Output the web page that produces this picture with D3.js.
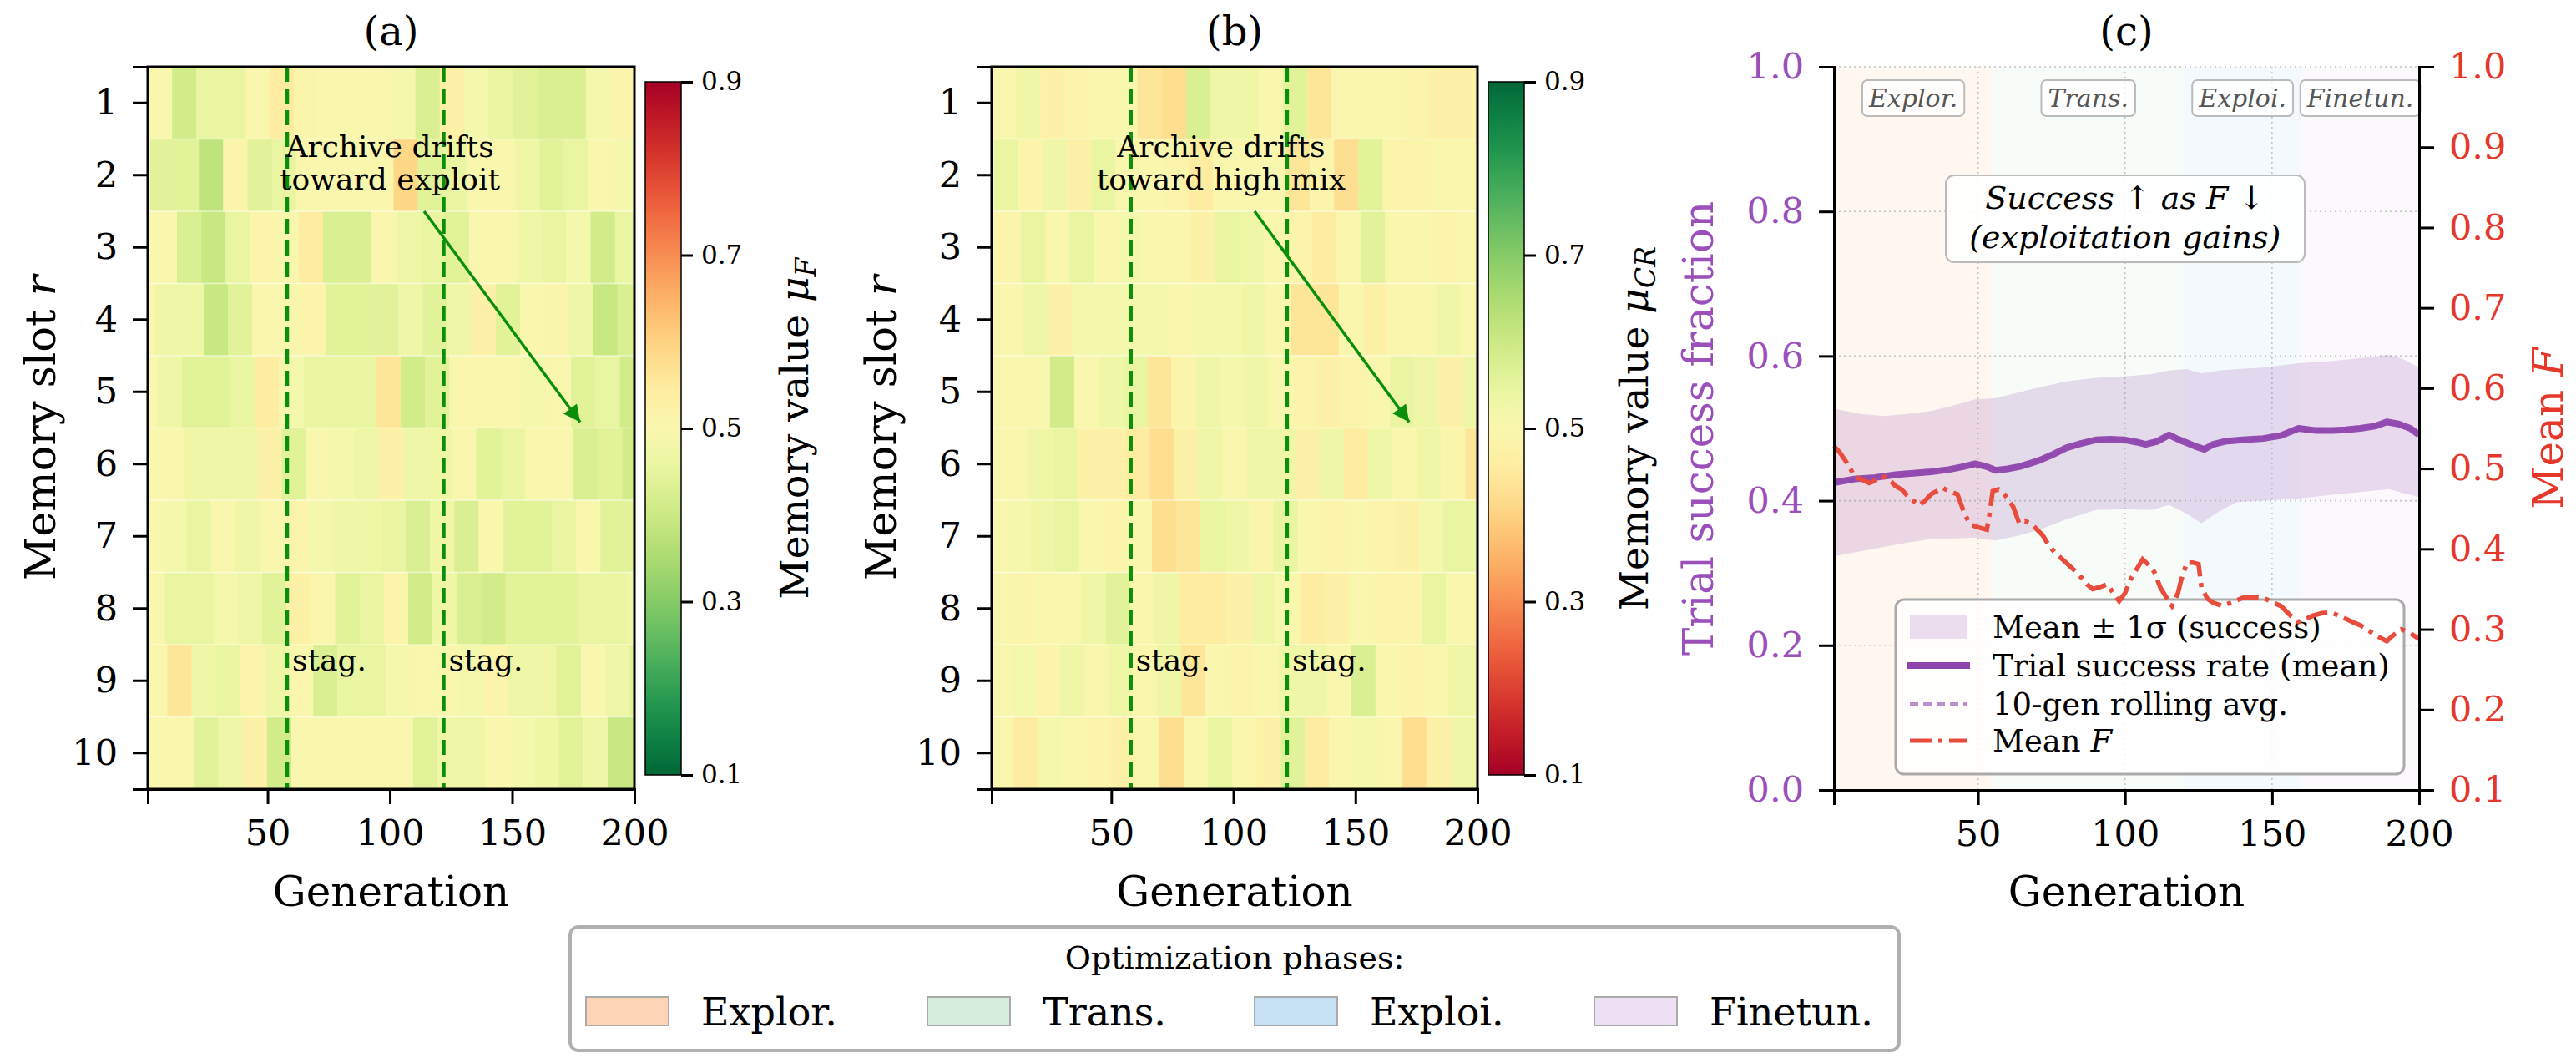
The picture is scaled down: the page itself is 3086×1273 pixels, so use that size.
<!DOCTYPE html>
<html>
<head>
<meta charset="utf-8">
<script src="https://cdn.jsdelivr.net/npm/d3@7"></script>
<style>
  body { margin: 0; background: #fff; }
  svg { font-family: "DejaVu Serif", serif; }
</style>
</head>
<body>
<svg id="fig" width="3086" height="1273"></svg>
<script>
// ---- data ----
const genRange = [1, 200];
const slots = [1, 2, 3, 4, 5, 6, 7, 8, 9, 10];
const blockLength = 10;        // slot r is rewritten every 10 generations
const initMemory = 0.5;
const stagGens = [58, 122];
const xTicks = [50, 100, 150, 200];
const cbTicks = [0.1, 0.3, 0.5, 0.7, 0.9];

// memory mu_F per slot, one value per 10-generation block
const muF = [
  [0.50, 0.41, 0.455, 0.455, 0.50, 0.545, 0.515, 0.50, 0.50, 0.50, 0.485, 0.425, 0.53, 0.485, 0.455, 0.44, 0.425, 0.425, 0.485, 0.515],
  [0.44, 0.44, 0.38, 0.515, 0.44, 0.455, 0.50, 0.50, 0.50, 0.50, 0.59, 0.44, 0.455, 0.50, 0.50, 0.47, 0.44, 0.455, 0.50, 0.485],
  [0.50, 0.425, 0.395, 0.455, 0.515, 0.50, 0.545, 0.425, 0.425, 0.50, 0.47, 0.455, 0.44, 0.50, 0.50, 0.47, 0.455, 0.485, 0.41, 0.455],
  [0.47, 0.47, 0.395, 0.44, 0.50, 0.50, 0.515, 0.44, 0.44, 0.44, 0.47, 0.44, 0.47, 0.53, 0.44, 0.50, 0.515, 0.47, 0.395, 0.425],
  [0.47, 0.44, 0.44, 0.455, 0.545, 0.485, 0.455, 0.455, 0.455, 0.56, 0.41, 0.44, 0.50, 0.50, 0.50, 0.485, 0.50, 0.44, 0.455, 0.41],
  [0.50, 0.47, 0.47, 0.47, 0.53, 0.44, 0.50, 0.485, 0.47, 0.53, 0.47, 0.47, 0.50, 0.44, 0.455, 0.50, 0.50, 0.425, 0.44, 0.41],
  [0.485, 0.455, 0.50, 0.47, 0.50, 0.515, 0.485, 0.47, 0.47, 0.455, 0.425, 0.47, 0.425, 0.50, 0.44, 0.44, 0.455, 0.50, 0.44, 0.44],
  [0.455, 0.455, 0.485, 0.47, 0.44, 0.53, 0.50, 0.44, 0.455, 0.515, 0.41, 0.47, 0.425, 0.41, 0.44, 0.44, 0.44, 0.455, 0.455, 0.47],
  [0.56, 0.47, 0.455, 0.515, 0.47, 0.50, 0.425, 0.455, 0.455, 0.485, 0.50, 0.50, 0.485, 0.515, 0.47, 0.47, 0.44, 0.50, 0.47, 0.44],
  [0.50, 0.44, 0.47, 0.53, 0.41, 0.50, 0.50, 0.50, 0.50, 0.50, 0.44, 0.47, 0.47, 0.50, 0.485, 0.47, 0.44, 0.47, 0.395, 0.395]
];

// memory mu_CR per slot
const muCR = [
  [0.50, 0.53, 0.47, 0.485, 0.50, 0.50, 0.44, 0.425, 0.575, 0.53, 0.53, 0.50, 0.56, 0.44, 0.50, 0.50, 0.50, 0.485, 0.47, 0.47],
  [0.545, 0.485, 0.53, 0.47, 0.545, 0.50, 0.50, 0.485, 0.455, 0.50, 0.50, 0.50, 0.44, 0.485, 0.425, 0.56, 0.485, 0.485, 0.50, 0.50],
  [0.485, 0.545, 0.50, 0.545, 0.50, 0.515, 0.50, 0.50, 0.47, 0.545, 0.53, 0.50, 0.485, 0.455, 0.50, 0.56, 0.50, 0.50, 0.485, 0.50],
  [0.50, 0.53, 0.47, 0.515, 0.515, 0.515, 0.515, 0.50, 0.515, 0.515, 0.53, 0.50, 0.44, 0.44, 0.50, 0.47, 0.50, 0.50, 0.53, 0.50],
  [0.50, 0.50, 0.59, 0.50, 0.53, 0.545, 0.44, 0.485, 0.53, 0.515, 0.53, 0.50, 0.485, 0.47, 0.485, 0.50, 0.545, 0.53, 0.47, 0.53],
  [0.50, 0.53, 0.545, 0.47, 0.47, 0.455, 0.425, 0.47, 0.53, 0.50, 0.53, 0.53, 0.47, 0.53, 0.455, 0.53, 0.50, 0.53, 0.485, 0.44],
  [0.515, 0.53, 0.545, 0.50, 0.485, 0.50, 0.425, 0.44, 0.545, 0.53, 0.485, 0.545, 0.50, 0.485, 0.50, 0.485, 0.47, 0.515, 0.545, 0.545],
  [0.485, 0.50, 0.50, 0.53, 0.56, 0.50, 0.53, 0.455, 0.455, 0.47, 0.53, 0.50, 0.455, 0.47, 0.50, 0.485, 0.485, 0.545, 0.50, 0.50],
  [0.515, 0.485, 0.53, 0.50, 0.53, 0.50, 0.53, 0.44, 0.50, 0.485, 0.50, 0.53, 0.53, 0.50, 0.575, 0.50, 0.485, 0.50, 0.53, 0.53],
  [0.455, 0.515, 0.50, 0.485, 0.47, 0.50, 0.425, 0.50, 0.545, 0.50, 0.47, 0.56, 0.455, 0.50, 0.515, 0.50, 0.425, 0.47, 0.53, 0.53]
];

// panel (c)
const phaseNames = ["Explor.", "Trans.", "Exploi.", "Finetun."];
const phaseStart = [1, 55, 120, 160];
const phaseEnd = [55, 120, 160, 200];
const phaseColors = ["#fdd5b6", "#d6eedd", "#c7e2f4", "#eee0f3"];

const succGen = [1, 8, 15, 22, 28, 34, 40, 45, 49, 53, 56, 60, 64, 68, 71, 75, 80, 85, 90, 95, 100, 104, 107, 111, 115, 118, 121, 124, 127, 130, 134, 140, 147, 153, 159, 165, 170, 175, 180, 185, 189, 193, 197, 200];
const succMean = [0.425, 0.430, 0.432, 0.436, 0.438, 0.440, 0.443, 0.447, 0.451, 0.447, 0.442, 0.444, 0.447, 0.452, 0.456, 0.463, 0.473, 0.479, 0.484, 0.485, 0.484, 0.481, 0.478, 0.482, 0.491, 0.485, 0.480, 0.475, 0.471, 0.478, 0.482, 0.484, 0.486, 0.490, 0.500, 0.497, 0.497, 0.498, 0.500, 0.503, 0.509, 0.506, 0.500, 0.491];
const succRolling = [0.426, 0.429, 0.433, 0.435, 0.438, 0.441, 0.443, 0.446, 0.449, 0.447, 0.444, 0.444, 0.447, 0.451, 0.456, 0.462, 0.471, 0.478, 0.483, 0.485, 0.484, 0.482, 0.480, 0.482, 0.488, 0.486, 0.481, 0.476, 0.473, 0.477, 0.481, 0.484, 0.487, 0.491, 0.498, 0.497, 0.497, 0.499, 0.501, 0.504, 0.507, 0.505, 0.499, 0.492];

const bandGen = [1, 10, 18, 26, 34, 42, 49, 56, 64, 71, 80, 90, 100, 109, 115, 121, 126, 132, 138, 147, 159, 170, 180, 190, 195, 200];
const bandUpper = [0.527, 0.520, 0.517, 0.520, 0.524, 0.532, 0.540, 0.542, 0.550, 0.557, 0.565, 0.570, 0.572, 0.575, 0.580, 0.582, 0.576, 0.580, 0.582, 0.584, 0.590, 0.593, 0.597, 0.602, 0.595, 0.584];
const bandLower = [0.323, 0.330, 0.336, 0.342, 0.347, 0.348, 0.349, 0.345, 0.352, 0.360, 0.374, 0.387, 0.388, 0.387, 0.394, 0.382, 0.369, 0.385, 0.398, 0.400, 0.403, 0.408, 0.412, 0.416, 0.410, 0.405];

const meanFGen = [1, 3, 6, 8, 10, 13, 15, 17, 19, 22, 24, 26, 28, 30, 32, 34, 36, 38, 40, 43, 45, 47, 49, 51, 53, 54, 55, 57, 59, 61, 62, 64, 66, 69, 72, 74, 76, 79, 82, 85, 87, 89, 91, 94, 96, 98, 100, 102, 104, 106, 108, 110, 112, 114, 116, 118, 119, 121, 123, 125, 126, 128, 130, 133, 136, 140, 144, 147, 150, 153, 156, 159, 161, 164, 167, 170, 172, 175, 178, 180, 183, 186, 189, 191, 194, 197, 200];
const meanFVal = [0.528, 0.520, 0.504, 0.490, 0.487, 0.482, 0.485, 0.490, 0.489, 0.478, 0.474, 0.466, 0.460, 0.454, 0.460, 0.468, 0.472, 0.476, 0.472, 0.468, 0.448, 0.432, 0.428, 0.426, 0.424, 0.445, 0.472, 0.474, 0.468, 0.458, 0.452, 0.432, 0.435, 0.428, 0.417, 0.405, 0.396, 0.386, 0.376, 0.365, 0.356, 0.350, 0.352, 0.356, 0.345, 0.335, 0.345, 0.363, 0.375, 0.387, 0.380, 0.371, 0.352, 0.340, 0.329, 0.345, 0.360, 0.383, 0.383, 0.381, 0.352, 0.338, 0.333, 0.329, 0.333, 0.339, 0.340, 0.339, 0.334, 0.329, 0.318, 0.309, 0.312, 0.317, 0.320, 0.321, 0.318, 0.313, 0.308, 0.305, 0.298, 0.291, 0.285, 0.292, 0.300, 0.295, 0.288];

const succTicks = [0.0, 0.2, 0.4, 0.6, 0.8, 1.0];
const fTicks = [0.1, 0.2, 0.3, 0.4, 0.5, 0.6, 0.7, 0.8, 0.9, 1.0];

const PURPLE = "#8e44ad";
const PURPLE_TXT = "#9b4fba";
const RED = "#e74c3c";
const RED_TXT = "#e5372a";
const GREEN = "#0b8f0b";

const svg = d3.select("#fig");
const defs = svg.append("defs");

defs.append("marker")
  .attr("id", "arrowhead")
  .attr("viewBox", "0 0 10 10")
  .attr("refX", 10).attr("refY", 5)
  .attr("markerUnits", "userSpaceOnUse")
  .attr("markerWidth", 24).attr("markerHeight", 20)
  .attr("orient", "auto")
  .append("path").attr("d", "M0,0 L10,5 L0,10 z").attr("fill", GREEN);

function styleAxis(g, fontSize, color) {
  g.selectAll(".domain").attr("stroke", "#000").attr("stroke-width", 3);
  g.selectAll(".tick line").attr("stroke", "#000").attr("stroke-width", 3);
  g.selectAll(".tick text")
    .attr("font-family", "DejaVu Serif")
    .attr("font-size", fontSize)
    .attr("fill", color || "#000");
}

function heatPanel(p) {
  const x = d3.scaleLinear().domain(genRange).range([p.left, p.right]);
  const nCols = genRange[1] - genRange[0] + 1;
  const xEdge = g => x(genRange[0] + (g - genRange[0]) * (genRange[1] - genRange[0]) / nCols);
  const yBand = d3.scaleBand().domain(slots).range([p.top, p.bottom]);
  const yRow = d3.scaleLinear().domain([0.5, slots.length + 0.5]).range([p.top, p.bottom]);
  const color = d3.scaleSequential(p.interp).domain([0.1, 0.9]);

  const cells = [];
  p.data.forEach((row, i) => {
    const r = slots[i];
    if (r > 1) cells.push({ r: r, g0: 1, g1: r, v: initMemory });
    row.forEach((v, k) => {
      const g0 = r + k * blockLength;
      if (g0 > genRange[1]) return;
      const g1 = Math.min(g0 + blockLength, genRange[1] + 1);
      cells.push({ r: r, g0: g0, g1: g1, v: v });
    });
  });

  const g = svg.append("g");
  g.selectAll("rect.cell").data(cells).enter().append("rect")
    .attr("class", "cell")
    .attr("x", d => xEdge(d.g0))
    .attr("width", d => xEdge(d.g1) - xEdge(d.g0) + 0.4)
    .attr("y", d => yBand(d.r))
    .attr("height", yBand.bandwidth() + 0.4)
    .attr("fill", d => color(d.v));

  // faint row seams
  g.selectAll("line.seam").data(slots.slice(1)).enter().append("line")
    .attr("x1", p.left).attr("x2", p.right)
    .attr("y1", d => yBand(d)).attr("y2", d => yBand(d))
    .attr("stroke", "#fff").attr("stroke-opacity", 0.55).attr("stroke-width", 1.5);

  // stagnation markers
  stagGens.forEach(s => {
    g.append("line")
      .attr("x1", x(s)).attr("x2", x(s))
      .attr("y1", p.top).attr("y2", p.bottom)
      .attr("stroke", GREEN).attr("stroke-width", 4.5)
      .attr("stroke-dasharray", "18,8");
    g.append("text")
      .attr("x", x(s) + 6).attr("y", yRow(8.86))
      .attr("font-size", 36).text("stag.");
  });

  // annotation
  const t = g.append("text").attr("text-anchor", "middle").attr("font-size", 36);
  t.append("tspan").attr("x", x(p.noteGen)).attr("y", yRow(1.754)).text("Archive drifts");
  t.append("tspan").attr("x", x(p.noteGen)).attr("y", yRow(2.2)).text(p.note);
  g.append("line")
    .attr("x1", x(p.arrowFrom[0])).attr("y1", yRow(p.arrowFrom[1]))
    .attr("x2", x(p.arrowTo[0])).attr("y2", yRow(p.arrowTo[1]))
    .attr("stroke", GREEN).attr("stroke-width", 3.5)
    .attr("marker-end", "url(#arrowhead)");

  // frame
  g.append("rect")
    .attr("x", p.left).attr("y", p.top)
    .attr("width", p.right - p.left).attr("height", p.bottom - p.top)
    .attr("fill", "none").attr("stroke", "#000").attr("stroke-width", 3);

  const ax = svg.append("g").attr("transform", `translate(0,${p.bottom})`)
    .call(d3.axisBottom(x).tickValues(xTicks).tickSize(18).tickPadding(18));
  styleAxis(ax, 43);
  const ay = svg.append("g").attr("transform", `translate(${p.left},0)`)
    .call(d3.axisLeft(yBand).tickSize(18).tickPadding(18));
  styleAxis(ay, 43);

  svg.append("text").attr("x", (p.left + p.right) / 2).attr("y", 1085)
    .attr("text-anchor", "middle").attr("font-size", 50).text("Generation");
  const yl = svg.append("text")
    .attr("transform", `translate(${p.ylabelX},${(p.top + p.bottom) / 2}) rotate(-90)`)
    .attr("text-anchor", "middle").attr("font-size", 51);
  yl.append("tspan").text("Memory slot ");
  yl.append("tspan").attr("font-style", "italic").text("r");

  svg.append("text").attr("x", (p.left + p.right) / 2).attr("y", 54)
    .attr("text-anchor", "middle").attr("font-size", 48).text(p.title);

  // colorbar
  const cy = d3.scaleLinear().domain([0.1, 0.9]).range([928, 98]);
  const grad = defs.append("linearGradient").attr("id", p.id + "grad")
    .attr("x1", 0).attr("y1", 1).attr("x2", 0).attr("y2", 0);
  d3.range(0, 1.0001, 0.05).forEach(s => {
    grad.append("stop").attr("offset", s).attr("stop-color", color(0.1 + 0.8 * s));
  });
  svg.append("rect")
    .attr("x", p.cbLeft).attr("y", cy(0.9))
    .attr("width", p.cbRight - p.cbLeft).attr("height", cy(0.1) - cy(0.9))
    .attr("fill", `url(#${p.id}grad)`).attr("stroke", "#000").attr("stroke-width", 1.5);
  const cax = svg.append("g").attr("transform", `translate(${p.cbRight},0)`)
    .call(d3.axisRight(cy).tickValues(cbTicks).tickFormat(d3.format(".1f")).tickSize(14).tickPadding(10));
  styleAxis(cax, 31);
  cax.select(".domain").remove();
  const cl = svg.append("text")
    .attr("transform", `translate(${p.cbLabelX},${cy(0.5)}) rotate(-90)`)
    .attr("text-anchor", "middle").attr("font-size", 47);
  cl.append("tspan").text("Memory value ");
  cl.append("tspan").attr("font-style", "italic").text("μ");
  cl.append("tspan").attr("font-style", "italic").attr("font-size", 33).attr("dy", 9).text(p.sub);
}

heatPanel({
  id: "a", title: "(a)", data: muF,
  interp: t => d3.interpolateRdYlGn(1 - t),
  left: 177, right: 760, top: 80, bottom: 945,
  cbLeft: 773, cbRight: 816, cbLabelX: 968, ylabelX: 66, sub: "F",
  note: "toward exploit", noteGen: 100, arrowFrom: [114, 2.5], arrowTo: [177.8, 5.42]
});

heatPanel({
  id: "b", title: "(b)", data: muCR,
  interp: d3.interpolateRdYlGn,
  left: 1188, right: 1770, top: 80, bottom: 945,
  cbLeft: 1783, cbRight: 1826, cbLabelX: 1974, ylabelX: 1073, sub: "CR",
  note: "toward high mix", noteGen: 95, arrowFrom: [108.7, 2.5], arrowTo: [172, 5.42]
});

// ---- panel (c) ----
(function () {
  const L = 2197, R = 2898, T = 80, B = 946;
  const x = d3.scaleLinear().domain(genRange).range([L, R]);
  const yL = d3.scaleLinear().domain([0, 1]).range([B, T]);
  const yR = d3.scaleLinear().domain([0.1, 1.0]).range([B, T]);
  const g = svg.append("g");

  phaseNames.forEach((n, i) => {
    g.append("rect")
      .attr("x", x(phaseStart[i])).attr("width", x(phaseEnd[i]) - x(phaseStart[i]))
      .attr("y", T).attr("height", B - T)
      .attr("fill", phaseColors[i]).attr("fill-opacity", 0.2);
  });

  // dotted grid
  g.selectAll("line.hg").data(succTicks.slice(1)).enter().append("line")
    .attr("x1", L).attr("x2", R).attr("y1", d => yL(d)).attr("y2", d => yL(d))
    .attr("stroke", "#c4c4c4").attr("stroke-width", 1.6).attr("stroke-dasharray", "2,4");
  g.selectAll("line.vg").data(xTicks.slice(0, 3)).enter().append("line")
    .attr("y1", T).attr("y2", B).attr("x1", d => x(d)).attr("x2", d => x(d))
    .attr("stroke", "#c4c4c4").attr("stroke-width", 1.6).attr("stroke-dasharray", "2,4");

  const bandData = bandGen.map((gg, i) => ({ g: gg, lo: bandLower[i], hi: bandUpper[i] }));
  g.append("path").datum(bandData)
    .attr("d", d3.area().x(d => x(d.g)).y0(d => yL(d.lo)).y1(d => yL(d.hi)))
    .attr("fill", "#9b59b6").attr("fill-opacity", 0.2);

  const line = d3.line().x(d => x(d[0])).y(d => yL(d[1]));
  g.append("path").datum(succGen.map((gg, i) => [gg, succRolling[i]]))
    .attr("d", line).attr("fill", "none")
    .attr("stroke", "#bb8fce").attr("stroke-width", 4).attr("stroke-dasharray", "10,6");
  g.append("path").datum(succGen.map((gg, i) => [gg, succMean[i]]))
    .attr("d", line).attr("fill", "none")
    .attr("stroke", PURPLE).attr("stroke-width", 8).attr("stroke-linejoin", "round")
    .attr("stroke-opacity", 0.95);

  // phase tags
  phaseNames.forEach((n, i) => {
    const cx = x((phaseStart[i] + phaseEnd[i]) / 2);
    const tg = g.append("g");
    const box = tg.append("rect");
    const tx = tg.append("text").attr("x", cx).attr("y", 128)
      .attr("text-anchor", "middle").attr("font-size", 30)
      .attr("font-style", "italic").attr("fill", "#555").text(n);
    const w = tx.node().getComputedTextLength() + 16;
    box.attr("x", cx - w / 2).attr("y", 96).attr("width", w).attr("height", 43)
      .attr("rx", 6).attr("fill", "#fff").attr("fill-opacity", 0.75)
      .attr("stroke", "#bbb").attr("stroke-width", 2);
  });

  // note box
  g.append("rect").attr("x", 2331).attr("y", 210).attr("width", 430).attr("height", 104)
    .attr("rx", 10).attr("fill", "#fff").attr("fill-opacity", 0.9)
    .attr("stroke", "#bbb").attr("stroke-width", 2);
  const nt = g.append("text").attr("text-anchor", "middle").attr("font-size", 38)
    .attr("font-style", "italic");
  nt.append("tspan").attr("x", x(100)).attr("y", 250).text("Success ↑  as F ↓");
  nt.append("tspan").attr("x", x(100)).attr("y", 297).text("(exploitation gains)");

  // legend
  const lg = g.append("g");
  lg.append("rect").attr("x", 2271).attr("y", 718).attr("width", 609).attr("height", 209)
    .attr("rx", 10).attr("fill", "#fff").attr("fill-opacity", 0.85)
    .attr("stroke", "#aaa").attr("stroke-width", 3);
  const rows = [751, 797, 843, 887];
  lg.append("rect").attr("x", 2288).attr("y", rows[0] - 14).attr("width", 69).attr("height", 28)
    .attr("fill", "#9b59b6").attr("fill-opacity", 0.2);
  lg.append("line").attr("x1", 2285).attr("x2", 2360).attr("y1", rows[1]).attr("y2", rows[1])
    .attr("stroke", PURPLE).attr("stroke-width", 8);
  lg.append("line").attr("x1", 2288).attr("x2", 2357).attr("y1", rows[2]).attr("y2", rows[2])
    .attr("stroke", "#bb8fce").attr("stroke-width", 4).attr("stroke-dasharray", "10,6");
  lg.append("line").attr("x1", 2288).attr("x2", 2357).attr("y1", rows[3]).attr("y2", rows[3])
    .attr("stroke", RED).attr("stroke-width", 5).attr("stroke-dasharray", "26,8,5,8");
  const labels = ["Mean ± 1σ (success)", "Trial success rate (mean)", "10-gen rolling avg."];
  labels.forEach((s, i) => {
    lg.append("text").attr("x", 2387).attr("y", rows[i] + 13).attr("font-size", 37).text(s);
  });
  const lf = lg.append("text").attr("x", 2387).attr("y", rows[3] + 13).attr("font-size", 37);
  lf.append("tspan").text("Mean ");
  lf.append("tspan").attr("font-style", "italic").text("F");

  // mean F on the twin axis
  g.append("path").datum(meanFGen.map((gg, i) => [gg, meanFVal[i]]))
    .attr("d", d3.line().x(d => x(d[0])).y(d => yR(d[1])))
    .attr("fill", "none").attr("stroke", RED).attr("stroke-width", 5.5)
    .attr("stroke-dasharray", "26,8,5,8");

  // axes
  const ax = svg.append("g").attr("transform", `translate(0,${B})`)
    .call(d3.axisBottom(x).tickValues(xTicks).tickSize(18).tickPadding(18));
  styleAxis(ax, 43);
  const al = svg.append("g").attr("transform", `translate(${L},0)`)
    .call(d3.axisLeft(yL).tickValues(succTicks).tickFormat(d3.format(".1f")).tickSize(18).tickPadding(18));
  styleAxis(al, 43, PURPLE_TXT);
  const ar = svg.append("g").attr("transform", `translate(${R},0)`)
    .call(d3.axisRight(yR).tickValues(fTicks).tickFormat(d3.format(".1f")).tickSize(18).tickPadding(18));
  styleAxis(ar, 43, RED_TXT);

  svg.append("text").attr("x", (L + R) / 2).attr("y", 1085)
    .attr("text-anchor", "middle").attr("font-size", 50).text("Generation");
  svg.append("text").attr("x", (L + R) / 2).attr("y", 54)
    .attr("text-anchor", "middle").attr("font-size", 48).text("(c)");
  svg.append("text")
    .attr("transform", `translate(2052,${(T + B) / 2}) rotate(-90)`)
    .attr("text-anchor", "middle").attr("font-size", 50).attr("fill", PURPLE_TXT)
    .text("Trial success fraction");
  const rl = svg.append("text")
    .attr("transform", `translate(3070,${(T + B) / 2}) rotate(-90)`)
    .attr("text-anchor", "middle").attr("font-size", 50).attr("fill", RED_TXT);
  rl.append("tspan").text("Mean ");
  rl.append("tspan").attr("font-style", "italic").text("F");
})();

// ---- shared phase legend ----
(function () {
  const g = svg.append("g");
  g.append("rect").attr("x", 683).attr("y", 1110).attr("width", 1592).attr("height", 148)
    .attr("rx", 10).attr("fill", "#fff").attr("stroke", "#b0b0b0").attr("stroke-width", 4);
  g.append("text").attr("x", 1479).attr("y", 1160).attr("text-anchor", "middle")
    .attr("font-size", 38).text("Optimization phases:");
  const swX = [702, 1111, 1503, 1910];
  phaseNames.forEach((n, i) => {
    g.append("rect").attr("x", swX[i]).attr("y", 1194).attr("width", 99).attr("height", 34)
      .attr("fill", phaseColors[i]).attr("stroke", "#aaa").attr("stroke-width", 2);
    g.append("text").attr("x", swX[i] + 138).attr("y", 1228).attr("font-size", 46).text(n);
  });
})();
</script>
</body>
</html>
